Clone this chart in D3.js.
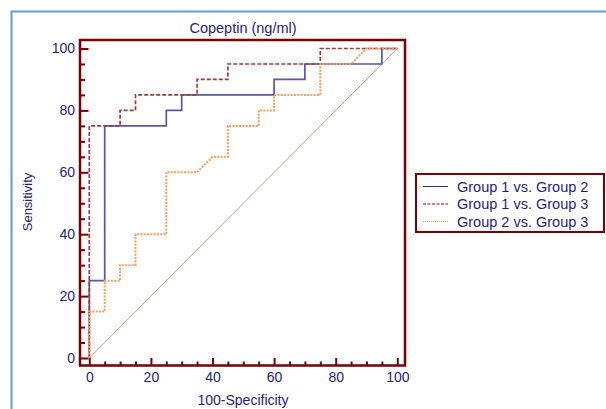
<!DOCTYPE html>
<html>
<head>
<meta charset="utf-8">
<script src="https://cdn.jsdelivr.net/npm/d3@7"></script>
<style>
  body { margin: 0; background: #fff; }
  svg { display: block; font-family: "Liberation Sans", Arial, sans-serif; }
  .tick text { fill: #1c1c8a; font-size: 14px; }
  .tick line { stroke: #7a0000; stroke-width: 2; }
</style>
</head>
<body>
<svg width="606" height="409"></svg>
<script>
// ROC curves (100-Specificity, Sensitivity)
const g12_fpr = [0, 0, 5, 5, 25, 25, 30, 30, 60, 60, 70, 70, 95, 95, 100];
const g12_tpr = [0, 25, 25, 75, 75, 80, 80, 85, 85, 90, 90, 95, 95, 100, 100];

const g13_fpr = [0, 0, 10, 10, 15, 15, 35, 35, 45, 45, 75, 75, 100];
const g13_tpr = [0, 75, 75, 80, 80, 85, 85, 90, 90, 95, 95, 100, 100];

const g23_fpr = [0, 0, 5, 5, 10, 10, 15, 15, 25, 25, 35, 40, 45, 45, 55, 55, 60, 60, 75, 75, 85, 90, 100];
const g23_tpr = [0, 15, 15, 25, 25, 30, 30, 40, 40, 60, 60, 65, 65, 75, 75, 80, 80, 85, 85, 95, 95, 100, 100];

const seriesNames = ["Group 1 vs. Group 2", "Group 1 vs. Group 3", "Group 2 vs. Group 3"];
const majorTicks = [0, 20, 40, 60, 80, 100];
const minorTicks = [5, 10, 15, 25, 30, 35, 45, 50, 55, 65, 70, 75, 85, 90, 95];

const svg = d3.select("svg");

// outer light blue frame (only top and left edges show)
svg.append("path")
  .attr("d", "M11.5,409 V11.5 H606")
  .attr("fill", "none")
  .attr("stroke", "#6a9bd0")
  .attr("stroke-width", 2);

// plot box
const box = {left: 80, top: 40, right: 405, bottom: 365.5};
const x = d3.scaleLinear().domain([0, 100]).range([89.3, 397.3]);
const y = d3.scaleLinear().domain([0, 100]).range([358, 48.5]);

// title
svg.append("text")
  .attr("x", 243).attr("y", 33)
  .attr("text-anchor", "middle")
  .attr("fill", "#1c1c8a")
  .style("font-size", "14.5px")
  .text("Copeptin (ng/ml)");

// axes: ticks run from the frame in toward the data origin
const yAxis = svg.append("g")
  .attr("transform", "translate(" + box.left + ",0)")
  .call(d3.axisLeft(y).tickValues(majorTicks).tickSize(-8.5).tickPadding(5));
yAxis.select(".domain").remove();

const yMinor = svg.append("g")
  .attr("transform", "translate(" + box.left + ",0)")
  .call(d3.axisLeft(y).tickValues(minorTicks).tickSize(-5).tickFormat(""));
yMinor.select(".domain").remove();

const xAxis = svg.append("g")
  .attr("transform", "translate(0," + box.bottom + ")")
  .call(d3.axisBottom(x).tickValues(majorTicks).tickSize(-7.5).tickPadding(7));
xAxis.select(".domain").remove();

const xMinor = svg.append("g")
  .attr("transform", "translate(0," + box.bottom + ")")
  .call(d3.axisBottom(x).tickValues(minorTicks).tickSize(-4).tickFormat(""));
xMinor.select(".domain").remove();

// axis titles
svg.append("text")
  .attr("x", 243).attr("y", 405)
  .attr("text-anchor", "middle")
  .attr("fill", "#1c1c8a")
  .style("font-size", "14px")
  .text("100-Specificity");

svg.append("text")
  .attr("transform", "translate(32,202) rotate(-90)")
  .attr("text-anchor", "middle")
  .attr("fill", "#1c1c8a")
  .style("font-size", "13px")
  .text("Sensitivity");

// reference diagonal
svg.append("line")
  .attr("x1", x(0)).attr("y1", y(0))
  .attr("x2", x(100)).attr("y2", y(100))
  .attr("stroke", "#d08a8a")
  .attr("stroke-width", 0.9);

const line = d3.line()
  .x(d => x(d[0]))
  .y(d => y(d[1]));

const series = [
  {fpr: g12_fpr, tpr: g12_tpr, color: "#5656b0", dash: null, width: 1.7, key: "#2a2aa0"},
  {fpr: g13_fpr, tpr: g13_tpr, color: "#a33a3a", dash: "4,2", width: 1.7, key: "#a00000"},
  {fpr: g23_fpr, tpr: g23_tpr, color: "#ff9a50", dash: "2,1.3", width: 2, key: "#ff9a50"}
];

series.forEach(s => {
  svg.append("path")
    .datum(d3.zip(s.fpr, s.tpr))
    .attr("fill", "none")
    .attr("stroke", s.color)
    .attr("stroke-width", s.width)
    .attr("stroke-dasharray", s.dash)
    .attr("d", line);
});

// frame
svg.append("rect")
  .attr("x", box.left).attr("y", box.top)
  .attr("width", box.right - box.left)
  .attr("height", box.bottom - box.top)
  .attr("fill", "none")
  .attr("stroke", "#7a0000")
  .attr("stroke-width", 2.5);

// legend
const legend = svg.append("g").attr("transform", "translate(416,174)");
legend.append("rect")
  .attr("width", 188).attr("height", 58)
  .attr("fill", "#fff")
  .attr("stroke", "#7a0000")
  .attr("stroke-width", 2);

seriesNames.forEach((name, i) => {
  const cy = 12.5 + i * 17.5;
  legend.append("line")
    .attr("x1", 7).attr("x2", 32)
    .attr("y1", cy).attr("y2", cy)
    .attr("stroke", series[i].key)
    .attr("stroke-width", 1)
    .attr("stroke-dasharray", series[i].dash ? (i === 1 ? "3,1.5" : "1,1") : null);
  legend.append("text")
    .attr("x", 41).attr("y", cy + 5)
    .attr("fill", "#1c1c8a")
    .style("font-size", "14.5px")
    .text(name);
});
</script>
</body>
</html>
